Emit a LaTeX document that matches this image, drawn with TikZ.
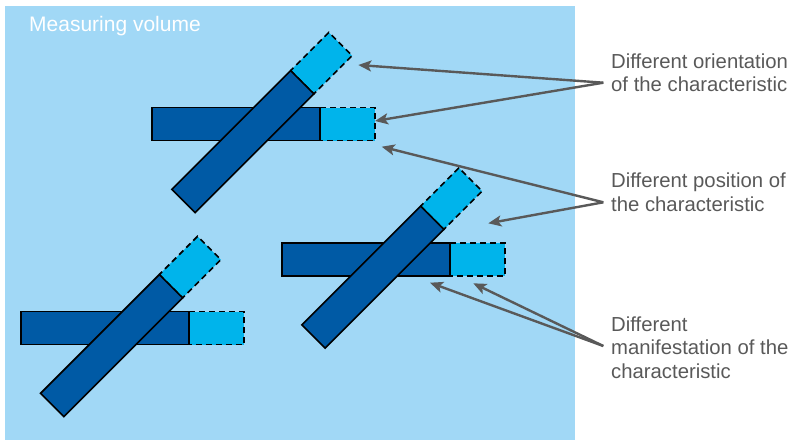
\documentclass[tikz,border=0pt]{standalone}
\usepackage{fontspec}
\setmainfont{Liberation Sans}
\usetikzlibrary{arrows.meta}

\definecolor{volumebg}{RGB}{161,216,246}
\definecolor{bardark}{RGB}{0,90,165}
\definecolor{barlight}{RGB}{0,180,235}
\definecolor{labelgray}{RGB}{89,89,89}

\tikzset{
  darkpart/.style={fill=bardark, draw=black, line width=1.6pt, line join=miter},
  lightpart/.style={fill=barlight, draw=black, line width=1.6pt, dash pattern=on 6pt off 4pt},
  callout/.style={draw=labelgray, line width=2.4pt,
    -{Stealth[length=13pt, width=11pt, inset=3pt]}},
  label/.style={font=\fontsize{20.3}{23.4}\selectfont, text=labelgray,
    align=left, anchor=west, inner sep=0pt},
  % one feature: a horizontal bar and a bar tilted by 45 degrees
  feature/.pic={
    \draw[lightpart] (168,-16.5) rectangle (223,16.5);
    \draw[darkpart] (0,-16.5) rectangle (168,16.5);
    \begin{scope}[shift={(31.5,77)}, rotate=45]
      \draw[lightpart] (168,-16.5) rectangle (222,16.5);
      \draw[darkpart] (0,-16.5) rectangle (168,16.5);
    \end{scope}
  }
}

\begin{document}
\begin{tikzpicture}[x=1pt, y=-1pt]
  \useasboundingbox (0,0) rectangle (794,440);

  % measuring volume
  \fill[volumebg] (5,6) rectangle (575,440);
  \node[font=\fontsize{21}{25}\selectfont, text=white, anchor=base west, inner sep=0pt]
    (volume) at (29,31.7) {Measuring volume};

  % three features
  \pic at (152,124) {feature};
  \pic at (282,259.5) {feature};
  \pic at (20.7,328) {feature};

  % labels
  \node[label] (orient) at (611,73) {Different orientation\\of the characteristic};
  \node[label] (posit) at (611,192.3) {Different position of\\the characteristic};
  \node[label] (manif) at (611,347.7) {Different\\manifestation of the\\characteristic};

  % callout sources and tips
  \coordinate (orientSrc) at (603.3,82.7);
  \coordinate (positSrc) at (603.3,202.3);
  \coordinate (manifSrc) at (603.3,346);
  \coordinate (orientTipA) at (358.3,65);
  \coordinate (orientTipB) at (375,121);
  \coordinate (positTipA) at (381.7,146.7);
  \coordinate (positTipB) at (488.3,223.3);
  \coordinate (manifTipA) at (430,282.7);
  \coordinate (manifTipB) at (473.3,283.3);

  \draw[callout] (orientSrc) -- (orientTipA);
  \draw[callout] (orientSrc) -- (orientTipB);
  \draw[callout] (positSrc) -- (positTipA);
  \draw[callout] (positSrc) -- (positTipB);
  \draw[callout] (manifSrc) -- (manifTipA);
  \draw[callout] (manifSrc) -- (manifTipB);
\end{tikzpicture}
\end{document}
